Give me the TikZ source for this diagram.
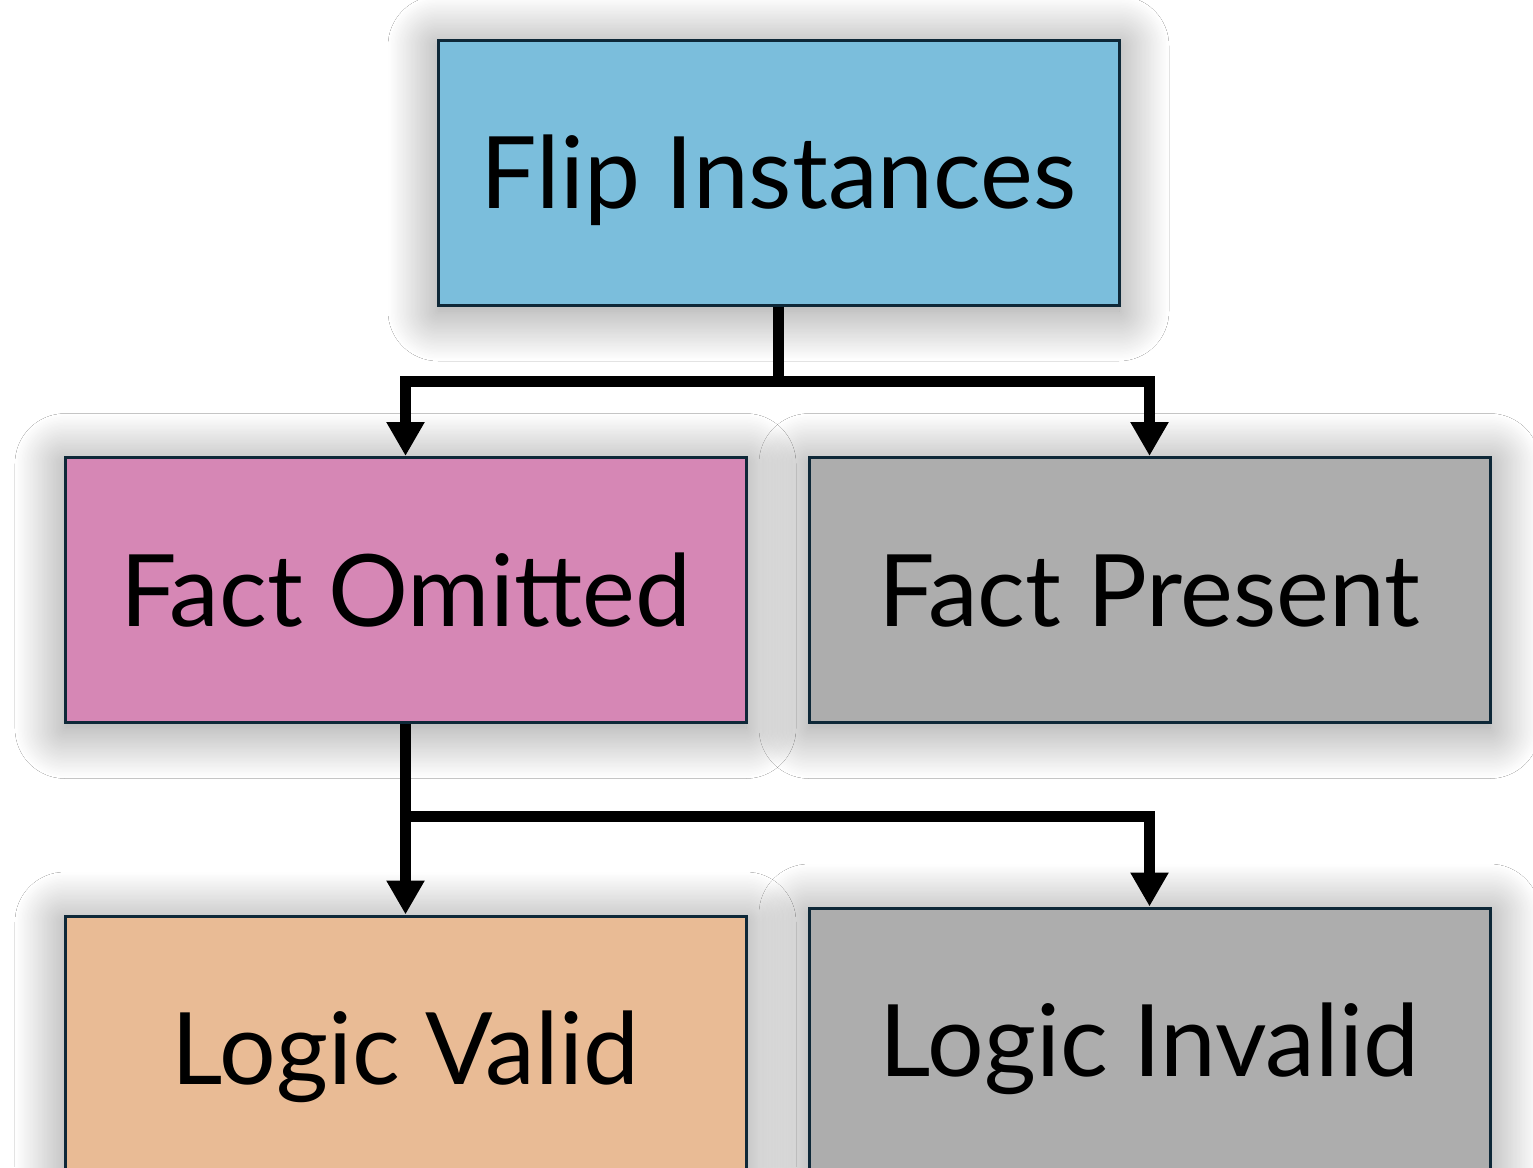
\documentclass[tikz,border=0pt]{standalone}
\usepackage{fontspec}
\setmainfont{Lato}
\usetikzlibrary{arrows.meta,shadows.blur}
\definecolor{cblue}{HTML}{7BBEDC}
\definecolor{cpink}{HTML}{D687B5}
\definecolor{cgrey}{HTML}{ADADAD}
\definecolor{corange}{HTML}{E9BB95}
\definecolor{cborder}{HTML}{0E2838}
\begin{document}
\begin{tikzpicture}[x=1pt,y=-1pt,
  box/.style={draw=cborder, line width=3pt, minimum width=681pt, minimum height=265pt,
    inner sep=0pt, text=black, font=\fontsize{100}{110}\selectfont,
    text height=72pt, text depth=0pt,
    blur shadow={shadow xshift=0pt, shadow yshift=-6pt, shadow blur radius=50pt,
      shadow blur steps=40, shadow opacity=45}},
  wire/.style={line width=11pt, line join=miter},
  conn/.style={wire, -{Triangle[width=36pt,length=34pt]}}]
\fill[white] (0,0) rectangle (1533,1167);
\useasboundingbox (0,0) rectangle (1533,1167);
\clip (0,0) rectangle (1533,1167);
\node[box, fill=cblue]   (flip)    at (778.5,172.5)  {Flip Instances};
\node[box, fill=cpink]   (omit)    at (405.5,590)    {Fact Omitted};
\node[box, fill=cgrey]   (present) at (1149.5,590)   {Fact Present};
\node[box, fill=corange] (valid)   at (405.5,1048.5) {Logic Valid};
\node[box, fill=cgrey]   (invalid) at (1149.5,1040.5){Logic Invalid};
\coordinate (j1) at (778.5,381);
\coordinate (j2) at (405.5,816);
\draw[wire] (flip.south) -- (j1);
\draw[conn] (j1) -| (omit.north);
\draw[conn] (j1) -| (present.north);
\draw[conn] (omit.south) -- (valid.north);
\draw[conn] (j2) -| (invalid.north);
\end{tikzpicture}
\end{document}
